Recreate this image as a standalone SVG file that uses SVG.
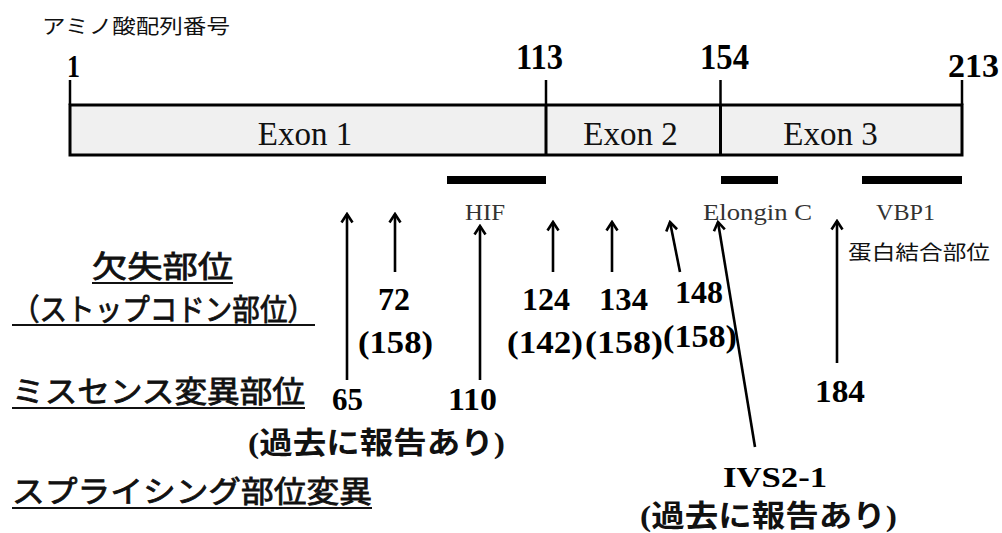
<svg xmlns="http://www.w3.org/2000/svg" width="1002" height="533" viewBox="0 0 1002 533">
<defs>
<marker id="ah" markerUnits="userSpaceOnUse" viewBox="-12 -8 14 16" refX="0" refY="0" markerWidth="14" markerHeight="16" orient="auto">
<path d="M-8.5,-5.5 L0,0 L-8.5,5.5" fill="none" stroke="#000" stroke-width="2.6" stroke-linejoin="miter"/>
</marker>
</defs>
<style>
.num{font-family:"Liberation Serif","Times New Roman",serif;font-weight:bold;fill:#000;}
.exon{font-family:"Liberation Serif","Times New Roman",serif;font-size:33px;fill:#111;text-anchor:middle;}
.dom{font-family:"Liberation Serif","Times New Roman",serif;font-size:24px;fill:#333;}
.jp{font-family:"Noto Sans CJK JP","Noto Sans",sans-serif;fill:#111;}
.lbl{font-family:"Noto Sans CJK JP","Noto Sans",sans-serif;font-size:30px;fill:#111;stroke:#111;stroke-width:0.8px;}
.rep{font-family:"Liberation Serif","Noto Sans CJK JP",serif;font-size:30px;font-weight:bold;fill:#111;}
.ul{stroke:#111;stroke-width:2;}
.tick{stroke:#000;stroke-width:2.5;}
.arr{stroke:#000;stroke-width:2.6;fill:none;marker-end:url(#ah);}
.dbar{fill:#000;}
</style>
<rect width="1002" height="533" fill="#fff"/>

<g id="title">
<text class="jp" x="42" y="34" font-size="20" textLength="188" lengthAdjust="spacingAndGlyphs">アミノ酸配列番号</text>
</g>

<g id="protein-bar">
<rect x="70" y="105" width="892" height="50" fill="#f0f0f0" stroke="#000" stroke-width="3"/>
<line x1="546" y1="105" x2="546" y2="155" stroke="#000" stroke-width="3"/>
<line x1="720.5" y1="105" x2="720.5" y2="155" stroke="#000" stroke-width="3"/>
<line class="tick" x1="70" y1="80" x2="70" y2="105"/>
<line class="tick" x1="546" y1="80" x2="546" y2="105"/>
<line class="tick" x1="720.5" y1="80" x2="720.5" y2="105"/>
<line class="tick" x1="962" y1="80" x2="962" y2="105"/>
<text class="num" x="67" y="77" font-size="32" textLength="13" lengthAdjust="spacingAndGlyphs">1</text>
<text class="num" x="516" y="69" font-size="35" textLength="47" lengthAdjust="spacingAndGlyphs">113</text>
<text class="num" x="700" y="69" font-size="35" textLength="49" lengthAdjust="spacingAndGlyphs">154</text>
<text class="num" x="948" y="77" font-size="33" textLength="51" lengthAdjust="spacingAndGlyphs">213</text>
<text class="exon" x="305" y="145">Exon 1</text>
<text class="exon" x="630.5" y="145">Exon 2</text>
<text class="exon" x="830.5" y="145">Exon 3</text>
</g>

<g id="domains">
<rect class="dbar" x="447" y="176" width="99" height="8"/>
<rect class="dbar" x="721" y="176" width="57" height="8"/>
<rect class="dbar" x="862" y="176" width="100" height="8"/>
<text class="dom" x="465" y="220" textLength="40" lengthAdjust="spacingAndGlyphs">HIF</text>
<text class="dom" x="703" y="220" textLength="109" lengthAdjust="spacingAndGlyphs">Elongin C</text>
<text class="dom" x="876" y="220" textLength="59" lengthAdjust="spacingAndGlyphs">VBP1</text>
<text class="jp" x="848" y="260" font-size="20" textLength="142" lengthAdjust="spacingAndGlyphs">蛋白結合部位</text>
</g>

<g id="legend">
<text class="lbl" x="92" y="277" textLength="141" lengthAdjust="spacingAndGlyphs">欠失部位</text>
<line class="ul" x1="92" y1="283" x2="233" y2="283"/>
<text class="lbl" x="12" y="320" font-size="28" textLength="303" lengthAdjust="spacingAndGlyphs">（ストップコドン部位）</text>
<line class="ul" x1="12" y1="325" x2="315" y2="325"/>
<text class="lbl" x="12" y="402" textLength="293" lengthAdjust="spacingAndGlyphs">ミスセンス変異部位</text>
<line class="ul" x1="12" y1="408" x2="305" y2="408"/>
<text class="lbl" x="12" y="502" textLength="360" lengthAdjust="spacingAndGlyphs">スプライシング部位変異</text>
<line class="ul" x1="12" y1="508" x2="372" y2="508"/>
</g>

<g id="connectors">
<line class="arr" x1="347" y1="380" x2="347" y2="214"/>
<line class="arr" x1="395" y1="272" x2="395" y2="214"/>
<line class="arr" x1="480" y1="380" x2="480" y2="226"/>
<line class="arr" x1="553" y1="272" x2="553" y2="222"/>
<line class="arr" x1="612" y1="272" x2="612" y2="222"/>
<line class="arr" x1="680" y1="272" x2="670" y2="222"/>
<line class="arr" x1="755" y1="447" x2="718" y2="222"/>
<line class="arr" x1="837" y1="363" x2="837" y2="221"/>
</g>

<g id="site-72">
<text class="num" x="378" y="310" font-size="31" textLength="32" lengthAdjust="spacingAndGlyphs">72</text>
<text class="num" x="358" y="353" font-size="31" textLength="75" lengthAdjust="spacingAndGlyphs">(158)</text>
</g>
<g id="site-65">
<text class="num" x="332" y="410" font-size="32" textLength="31" lengthAdjust="spacingAndGlyphs">65</text>
</g>
<g id="site-110">
<text class="num" x="448" y="410" font-size="32" textLength="49" lengthAdjust="spacingAndGlyphs">110</text>
<text class="rep" x="248" y="453" textLength="257" lengthAdjust="spacingAndGlyphs">(過去に報告あり)</text>
</g>
<g id="site-124">
<text class="num" x="522" y="310" font-size="31" textLength="48" lengthAdjust="spacingAndGlyphs">124</text>
<text class="num" x="507" y="353" font-size="31" textLength="76" lengthAdjust="spacingAndGlyphs">(142)</text>
</g>
<g id="site-134">
<text class="num" x="599" y="310" font-size="31" textLength="49" lengthAdjust="spacingAndGlyphs">134</text>
<text class="num" x="585" y="353" font-size="31" textLength="78" lengthAdjust="spacingAndGlyphs">(158)</text>
</g>
<g id="site-148">
<text class="num" x="675" y="303" font-size="31" textLength="48" lengthAdjust="spacingAndGlyphs">148</text>
<text class="num" x="663" y="347" font-size="31" textLength="74" lengthAdjust="spacingAndGlyphs">(158)</text>
</g>
<g id="site-184">
<text class="num" x="815" y="402" font-size="31" textLength="50" lengthAdjust="spacingAndGlyphs">184</text>
</g>
<g id="site-ivs">
<text class="num" x="723" y="487" font-size="29" textLength="104" lengthAdjust="spacingAndGlyphs">IVS2-1</text>
<text class="rep" x="640" y="526" textLength="257" lengthAdjust="spacingAndGlyphs">(過去に報告あり)</text>
</g>
</svg>
